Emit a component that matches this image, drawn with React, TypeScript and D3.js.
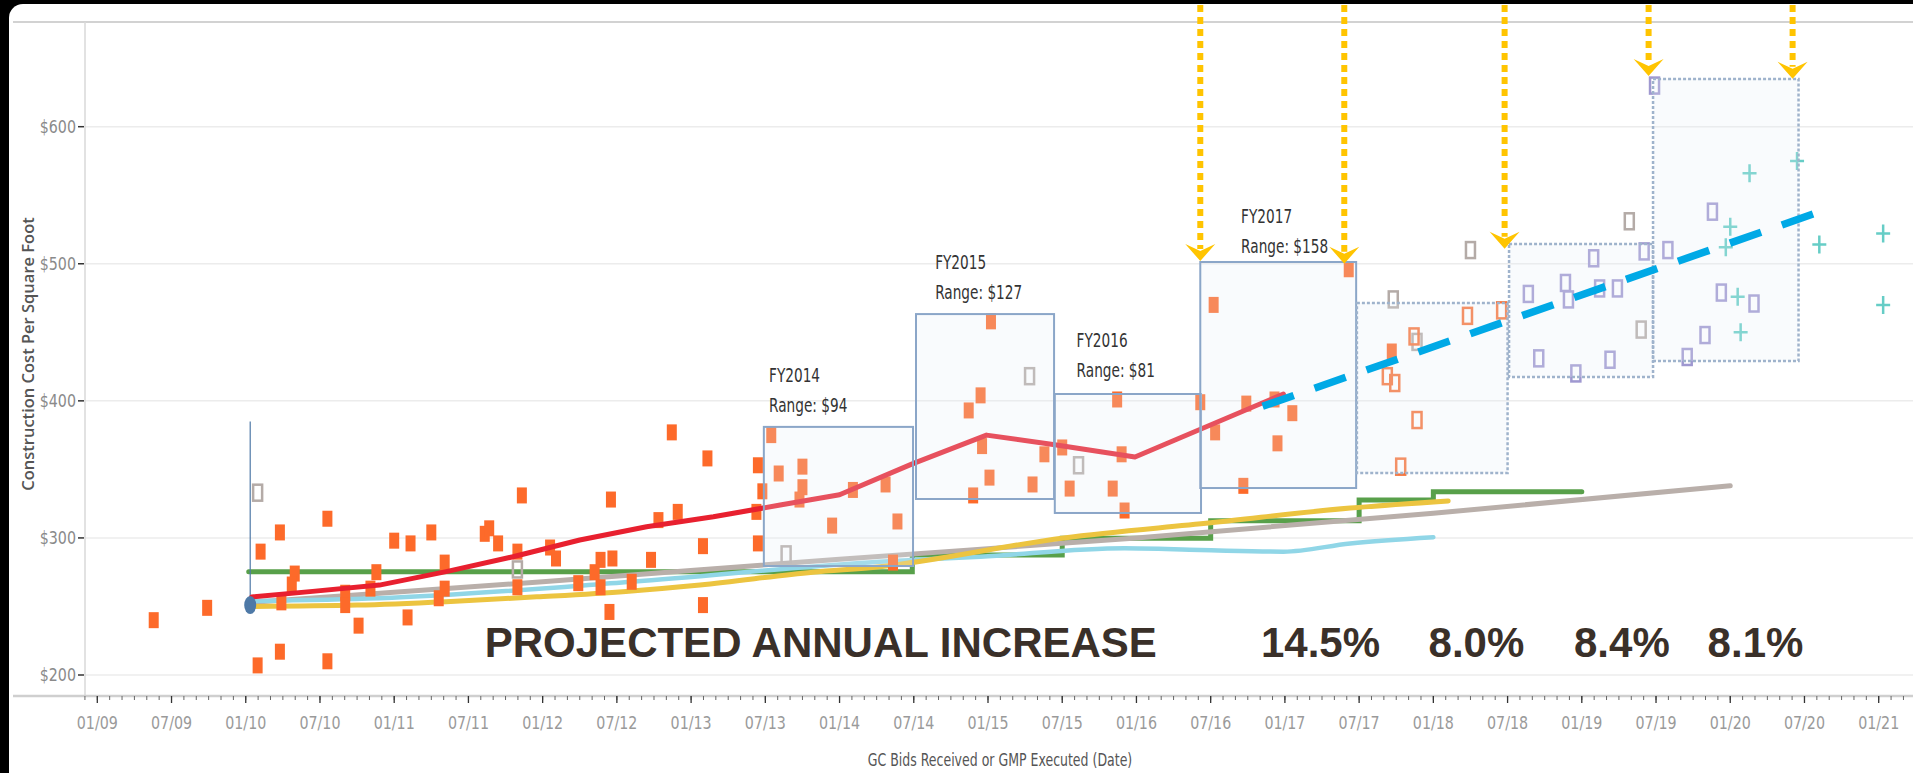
import * as d3 from "d3";

// GC bids / GMP executed, cost per square foot
const orangeBids: [number, number][] = [
  [2009.38, 240], [2009.74, 249], [2010.08, 207], [2010.23, 217], [2010.55, 210], [2010.24, 253],
  [2010.33, 274], [2010.31, 266], [2010.1, 290], [2010.23, 304], [2010.55, 314], [2010.67, 260],
  [2010.67, 251], [2010.76, 236], [2010.84, 263], [2010.88, 275], [2011.0, 298], [2011.11, 296],
  [2011.25, 304], [2011.09, 242], [2011.3, 256], [2011.34, 263], [2011.34, 282], [2011.61, 303],
  [2011.64, 307], [2011.7, 296], [2011.86, 331], [2011.83, 290], [2011.83, 264], [2012.05, 293],
  [2012.09, 285], [2012.24, 267], [2012.35, 275], [2012.39, 284], [2012.39, 264], [2012.47, 285],
  [2012.46, 328], [2012.6, 268], [2012.73, 284], [2012.45, 246], [2012.78, 313], [2012.91, 319],
  [2012.87, 377], [2013.11, 358], [2013.08, 294], [2013.08, 251], [2013.45, 353], [2013.48, 334],
  [2013.44, 319], [2013.45, 296], [2013.54, 375], [2013.59, 347], [2013.75, 352], [2013.75, 337],
  [2013.73, 328], [2014.09, 335], [2013.95, 309], [2014.31, 339], [2014.39, 312], [2014.36, 282],
  [2015.02, 458], [2014.95, 404], [2014.87, 393], [2014.96, 367], [2015.01, 344], [2014.9, 331],
  [2015.3, 339], [2015.38, 361], [2015.5, 366], [2015.55, 336], [2015.87, 401], [2015.9, 361],
  [2015.84, 336], [2015.92, 320], [2016.43, 399], [2016.53, 377], [2016.52, 470], [2016.74, 398],
  [2016.72, 338], [2016.93, 401], [2017.05, 391], [2016.95, 369], [2017.43, 496], [2017.72, 436],
];
const orangeOpen: [number, number][] = [
  [2018.23, 462], [2018.46, 466], [2017.87, 447], [2017.69, 418], [2017.74, 413], [2017.89, 386], [2017.78, 352],
];
const grayOpen: [number, number][] = [
  [2010.08, 333], [2011.83, 277], [2013.64, 288], [2015.28, 418], [2015.61, 353],
  [2017.73, 474], [2017.89, 443], [2018.25, 510], [2019.4, 452], [2019.32, 531],
];
const purpleOpen: [number, number][] = [
  [2018.64, 478], [2018.89, 486], [2018.91, 474], [2018.71, 431], [2018.96, 420], [2019.19, 430],
  [2019.08, 504], [2019.12, 482], [2019.24, 482], [2019.42, 509], [2019.58, 510], [2019.49, 630],
  [2019.88, 538], [2019.94, 479], [2020.16, 471], [2019.71, 432], [2019.83, 448],
];
const tealPlus: [number, number][] = [
  [2020.45, 575], [2020.13, 566], [2020.0, 527], [2019.97, 512], [2020.05, 476],
  [2020.07, 450], [2020.6, 514], [2021.03, 522], [2021.03, 470],
];

// trend lines
const redTrend: [number, number][] = [
  [2010.04, 257], [2010.45, 261], [2010.9, 265.6], [2011.35, 275.4], [2011.8, 286.3], [2012.25, 298.5],
  [2012.7, 308.2], [2013.15, 315.5], [2013.6, 324], [2014.0, 331.5], [2014.49, 354], [2014.99, 375],
  [2015.45, 368], [2015.99, 359], [2016.99, 405],
];
const greenSteps: [number, number][] = [
  [2010.02, 275.4], [2014.49, 287.5], [2015.5, 299.7], [2016.5, 312.6], [2017.5, 327.7], [2018.0, 333.7], [2019.0, 333.7],
];
const grayTrend: [number, number][] = [
  [2010.05, 253], [2012, 268], [2014, 284.5], [2016, 300], [2018, 318], [2020, 338],
];
const cyanTrend: [number, number][] = [
  [2010.03, 254], [2010.9, 256], [2012.6, 268], [2014.27, 282.7], [2014.95, 286.3], [2015.92, 292.4],
  [2016.43, 291.2], [2016.99, 290], [2017.44, 296], [2018.0, 300.5],
];
const yellowTrend: [number, number][] = [
  [2010.03, 250], [2010.75, 251], [2011.35, 253.5], [2011.96, 257], [2012.56, 261], [2013.06, 265.7],
  [2013.82, 275], [2014.27, 279], [2015.51, 300], [2016.5, 311], [2017.44, 321.8], [2018.1, 327],
];
const projection: [number, number][] = [[2016.85, 396], [2020.63, 539]];
const baseMarker = { date: 2010.03, low: 251, high: 385 };

// fiscal year boxes
const boxStart = [2013.49, 2014.515, 2015.45, 2016.43, 2017.485, 2018.51, 2019.48];
const boxEnd = [2014.495, 2015.445, 2016.435, 2017.48, 2018.5, 2019.48, 2020.46];
const boxLow = [279.5, 328.4, 318.2, 336.4, 347.4, 417.4, 429.1];
const boxHigh = [381, 463.3, 405, 501.3, 471.4, 514.4, 634.8];
const boxProjected = [false, false, false, false, true, true, true];

const fyNames = ["FY2014", "FY2015", "FY2016", "FY2017"];
const fyRanges = ["Range: $94", "Range: $127", "Range: $81", "Range: $158"];
const fyLabelDate = [2013.525, 2014.644, 2015.597, 2016.705];
const fyLabelValue = [414, 496, 439, 530];

const arrowDates = [2016.43, 2017.4, 2018.48, 2019.45, 2020.42];
const arrowTips = [502, 500, 511, 637, 635];

const increaseLabels = ["14.5%", "8.0%", "8.4%", "8.1%"];
const increaseDates = [2017.24, 2018.29, 2019.27, 2020.17];

const yTicks = [200, 300, 400, 500, 600];

const W = 1913;
const H = 773;
const NARROW = "'Liberation Sans Narrow', 'DejaVu Sans Condensed', 'Roboto Condensed', Roboto, sans-serif";
const BOLD = "'Liberation Sans', Arial, sans-serif";

export default function App() {
  const x = d3.scaleLinear().domain([2009, 2021]).range([97.3, 1878.7]);
  const y = d3.scaleLinear().domain([200, 600]).range([675, 126.7]);

  const line = (curve: d3.CurveFactory) =>
    d3
      .line<[number, number]>()
      .x((d) => x(d[0]))
      .y((d) => y(d[1]))
      .curve(curve);

  const majorTicks = d3.range(2009, 2021.01, 0.5);
  const minorTicks = d3.range(2009 - 1 / 12, 2021.2, 1 / 12);
  const fmt = (t: number) => {
    const yr = Math.floor(t + 1e-6);
    const half = t - yr > 0.25 ? "07" : "01";
    return `${half}/${String(yr % 100).padStart(2, "0")}`;
  };

  const plotLeft = 85;
  const axisY = 696;
  const arrowHead = "M0,0 L-15,-17 L0,-10 L15,-17 Z";

  return (
    <svg width={W} height={H} style={{ position: "absolute", left: 0, top: 0 }}>
      <rect width={W} height={H} fill="#000" />
      <rect x={9} y={4} width={W + 20} height={H + 20} rx={14} fill="#fff" />

      {/* frame + grid */}
      <line x1={13} x2={W} y1={22} y2={22} stroke="#d2d2d2" strokeWidth={2} />
      {yTicks.map((t) => (
        <line key={t} x1={plotLeft} x2={W} y1={y(t)} y2={y(t)} stroke="#ececec" strokeWidth={1.5} />
      ))}
      <line x1={plotLeft} x2={plotLeft} y1={22} y2={axisY} stroke="#d9d9d9" strokeWidth={1.5} />
      {yTicks.map((t) => (
        <g key={"yl" + t}>
          <line x1={78} x2={84} y1={y(t)} y2={y(t)} stroke="#333" strokeWidth={1.5} />
          <text
            transform={`translate(76,${y(t)}) scale(0.88,1)`}
            dy="0.35em"
            textAnchor="end"
            fontFamily={NARROW}
            fontSize={18}
            fill="#8a8a8a"
          >
            ${t}
          </text>
        </g>
      ))}
      <text
        transform="translate(34,354) rotate(-90)"
        textAnchor="middle"
        fontFamily="'Open Sans', sans-serif"
        fontWeight={600}
        fontSize={16.5}
        fill="#555"
      >
        Construction Cost Per Square Foot
      </text>

      {/* x axis */}
      <line x1={13} x2={W} y1={axisY} y2={axisY} stroke="#cfcfcf" strokeWidth={2.5} />
      {minorTicks.map((t, i) => (
        <line key={"mt" + i} x1={x(t)} x2={x(t)} y1={axisY} y2={axisY + 4} stroke="#666" strokeWidth={1} />
      ))}
      {majorTicks.map((t) => (
        <g key={"xt" + t}>
          <line x1={x(t)} x2={x(t)} y1={axisY} y2={axisY + 7} stroke="#333" strokeWidth={1.3} />
          <text
            transform={`translate(${x(t)},729) scale(0.88,1)`}
            textAnchor="middle"
            fontFamily={NARROW}
            fontSize={18}
            fill="#9a9a9a"
          >
            {fmt(t)}
          </text>
        </g>
      ))}
      <text
        transform="translate(1000,766) scale(0.82,1)"
        textAnchor="middle"
        fontFamily={NARROW}
        fontSize={17}
        fill="#555"
      >
        GC Bids Received or GMP Executed (Date)
      </text>

      {/* trend lines under markers */}
      <path d={line(d3.curveStepAfter)(greenSteps) || ""} fill="none" stroke="#58a04a" strokeWidth={5} strokeLinecap="round" />
      <path d={line(d3.curveMonotoneX)(grayTrend) || ""} fill="none" stroke="#b9afaa" strokeWidth={5} strokeLinecap="round" />
      <path d={line(d3.curveMonotoneX)(cyanTrend) || ""} fill="none" stroke="#90d6e7" strokeWidth={4.5} strokeLinecap="round" />
      <path d={line(d3.curveMonotoneX)(yellowTrend) || ""} fill="none" stroke="#ecc440" strokeWidth={5} strokeLinecap="round" />

      {/* base marker */}
      <line
        x1={x(baseMarker.date)}
        x2={x(baseMarker.date)}
        y1={y(baseMarker.high)}
        y2={y(baseMarker.low)}
        stroke="#4e79a7"
        strokeWidth={1.2}
      />

      {/* markers */}
      {orangeBids.map((d, i) => (
        <rect key={"o" + i} x={x(d[0]) - 5} y={y(d[1]) - 8} width={10} height={16} fill="#fd6a2a" />
      ))}
      {grayOpen.map((d, i) => (
        <rect key={"g" + i} x={x(d[0]) - 4.5} y={y(d[1]) - 8} width={9} height={16} fill="none" stroke="#b4aba7" strokeWidth={2.5} />
      ))}
      {orangeOpen.map((d, i) => (
        <rect key={"oo" + i} x={x(d[0]) - 4.5} y={y(d[1]) - 8} width={9} height={16} fill="none" stroke="#f8743a" strokeWidth={2.5} />
      ))}
      {purpleOpen.map((d, i) => (
        <rect key={"p" + i} x={x(d[0]) - 4.5} y={y(d[1]) - 8} width={9} height={16} fill="none" stroke="#9f98d0" strokeWidth={2.5} />
      ))}
      {tealPlus.map((d, i) => (
        <path
          key={"t" + i}
          transform={`translate(${x(d[0])},${y(d[1])})`}
          d="M-7,0 H7 M0,-9 V9"
          stroke="#66cdc6"
          strokeWidth={2.5}
          fill="none"
        />
      ))}

      <path d={line(d3.curveLinear)(redTrend) || ""} fill="none" stroke="#e8202f" strokeWidth={5} strokeLinejoin="round" strokeLinecap="round" />
      <ellipse cx={x(baseMarker.date)} cy={y(baseMarker.low)} rx={6} ry={9} fill="#4e79a7" />

      {/* fiscal-year boxes */}
      {boxStart.map((s, i) => (
        <rect
          key={"b" + i}
          x={x(s)}
          y={y(boxHigh[i])}
          width={x(boxEnd[i]) - x(s)}
          height={y(boxLow[i]) - y(boxHigh[i])}
          fill="rgba(228,239,248,0.24)"
          stroke={boxProjected[i] ? "#9fb3cc" : "#8ba6c8"}
          strokeWidth={boxProjected[i] ? 2.5 : 2}
          strokeDasharray={boxProjected[i] ? "3 2" : undefined}
        />
      ))}

      {/* projection */}
      <path d={line(d3.curveLinear)(projection) || ""} fill="none" stroke="#00a9e6" strokeWidth={7.5} strokeDasharray="33 22" />

      {/* FY labels */}
      {fyNames.map((n, i) => (
        <g key={n} fontFamily={NARROW} fontSize={20} fill="#333">
          <text transform={`translate(${x(fyLabelDate[i])},${y(fyLabelValue[i])}) scale(0.76,1)`}>{n}</text>
          <text transform={`translate(${x(fyLabelDate[i])},${y(fyLabelValue[i]) + 30}) scale(0.76,1)`}>
            {fyRanges[i]}
          </text>
        </g>
      ))}

      {/* yellow arrows */}
      {arrowDates.map((d, i) => (
        <g key={"a" + i}>
          <line
            x1={x(d)}
            x2={x(d)}
            y1={5}
            y2={y(arrowTips[i]) - 12}
            stroke="#ffc400"
            strokeWidth={6}
            strokeDasharray="7 5"
          />
          <path transform={`translate(${x(d)},${y(arrowTips[i])})`} d={arrowHead} fill="#ffc400" />
        </g>
      ))}

      {/* projected increase */}
      <text x={x(2011.61)} y={y(213)} fontFamily={BOLD} fontWeight="bold" fontSize={42} fill="#3a3029">
        PROJECTED ANNUAL INCREASE
      </text>
      {increaseLabels.map((l, i) => (
        <text
          key={l}
          x={x(increaseDates[i])}
          y={y(213)}
          textAnchor="middle"
          fontFamily={BOLD}
          fontWeight="bold"
          fontSize={42}
          fill="#3a3029"
        >
          {l}
        </text>
      ))}
    </svg>
  );
}
